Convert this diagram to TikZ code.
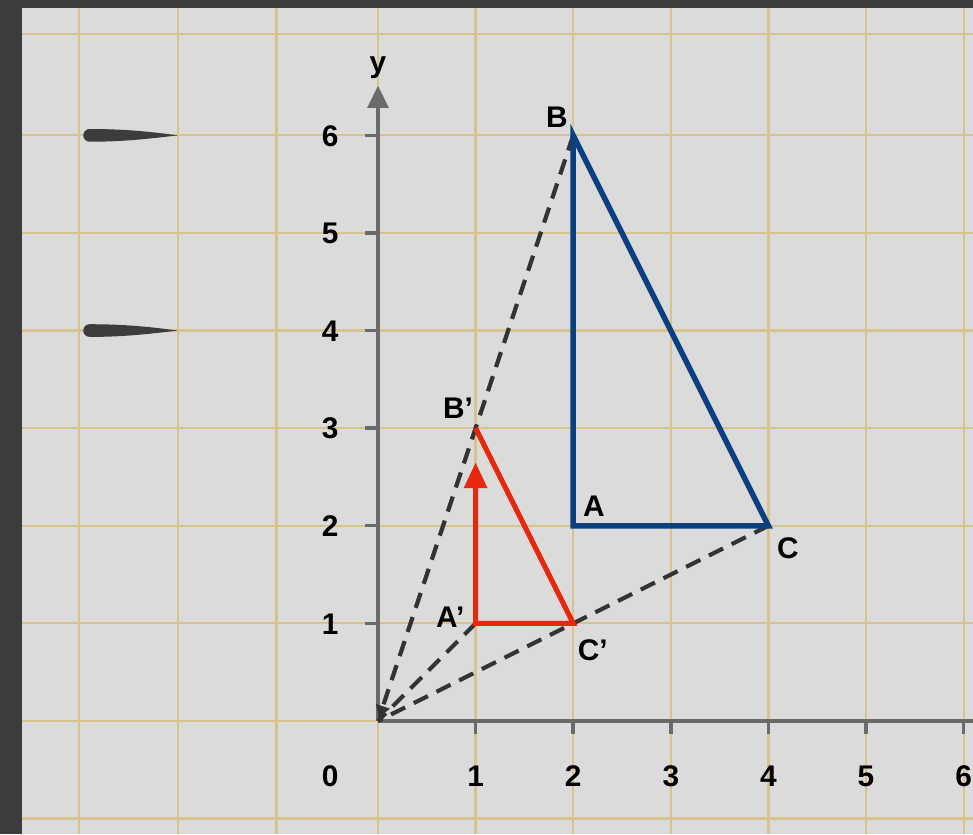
\documentclass[tikz,border=0pt]{standalone}
\usepackage{fontspec}
\setmainfont{Liberation Sans}
\usepackage{tikz}
\usetikzlibrary{arrows.meta,positioning}
\definecolor{frame}{HTML}{3C3C3C}
\definecolor{paper}{HTML}{DBDBDB}
\definecolor{gridtan}{HTML}{D9C38C}
\definecolor{axisgray}{HTML}{6A6A6A}
\definecolor{navy}{HTML}{0A3F80}
\definecolor{redline}{HTML}{E8280E}
\definecolor{dashgray}{HTML}{333333}
\tikzset{
  gridln/.style={draw=gridtan, line width=.65pt},
  axis/.style={draw=axisgray, line width=1.2pt},
  tck/.style={draw=axisgray, line width=1pt},
  num/.style={font=\fontsize{8.7}{10}\selectfont\bfseries, text=black, inner sep=0pt, text height=6.3pt, text depth=0pt},
  big/.style={draw=navy, line width=1.6pt},
  small/.style={draw=redline, line width=1.5pt},
  ray/.style={draw=dashgray, line width=1.2pt, dash pattern=on 4.6pt off 2.8pt},
}

\begin{document}
\begin{tikzpicture}
        \useasboundingbox (-3.873,-1.158) rectangle (6.096,7.387);
        \fill[frame] (-3.873,-1.158) rectangle (6.096,7.387);
        \fill[paper] (-3.648,-1.158) rectangle (6.096,7.305);
        \foreach \x in {-3.06,-2.05,-1.04,0,1,...,6}{ \draw[gridln] (\x,-1.158) -- (\x,7.305); }
        \foreach \y in {-1,...,6,7.04}{ \draw[gridln] (-3.648,\y) -- (6.096,\y); }
        \foreach \y in {4,6}{ \fill[frame] (-2.05,\y) .. controls (-2.35,\y+0.04) and (-2.6,\y+0.065) .. (-2.955,\y+0.065) arc[start angle=90, end angle=270, radius=0.065] .. controls (-2.6,\y-0.065) and (-2.35,\y-0.035) .. (-2.05,\y) -- cycle; }
        \coordinate (O) at (0,0);
        \coordinate (xend) at (6.2,0);
        \coordinate (ytop) at (0,6.51);
        \draw[axis] (O) -- (xend);
        \draw[axis, -{Triangle[length=6.5pt,width=6pt]}] (O) -- (ytop);
        \node[num] (ylbl) at (0,6.75) {y};
        \foreach \y in {1,...,6}{ \draw[tck] (-0.13,\y) -- (0,\y); \node[num] (ty\y) at (-0.49,\y) {\y}; }
        \foreach \x in {1,...,6}{ \draw[tck] (\x,0) -- (\x,-0.13); \node[num] (tx\x) at (\x,-0.56) {\x}; }
        \node[num] (t0) at (-0.49,-0.56) {0};
        \coordinate (A) at (2,2);
        \coordinate (B) at (2,6);
        \coordinate (C) at (4,2);
        \coordinate (Ap) at (1,1);
        \coordinate (Bp) at (1,3);
        \coordinate (Cp) at (2,1);
        \coordinate (Atip) at (1,2.65);
        \draw[ray, -{Latex[length=4.5pt,width=4.5pt]}] (B) -- (O);
        \draw[ray] (C) -- (O);
        \draw[ray] (Ap) -- (O);
        \draw[big] (B) -- (A) -- (C) -- cycle;
        \draw[small, {Triangle[length=7.5pt,width=6.5pt]}-] (Atip) -- (Ap) -- (Cp) -- (Bp);
        \node[num] (lB) at (1.834,6.19) {B};
        \node[num] (lBp) at (0.82,3.21) {B’};
        \node[num] (lA) at (2.213,2.203) {A};
        \node[num] (lC) at (4.2,1.78) {C};
        \node[num] (lAp) at (0.74,1.066) {A’};
        \node[num] (lCp) at (2.2,0.727) {C’};
      \end{tikzpicture}
\end{document}
